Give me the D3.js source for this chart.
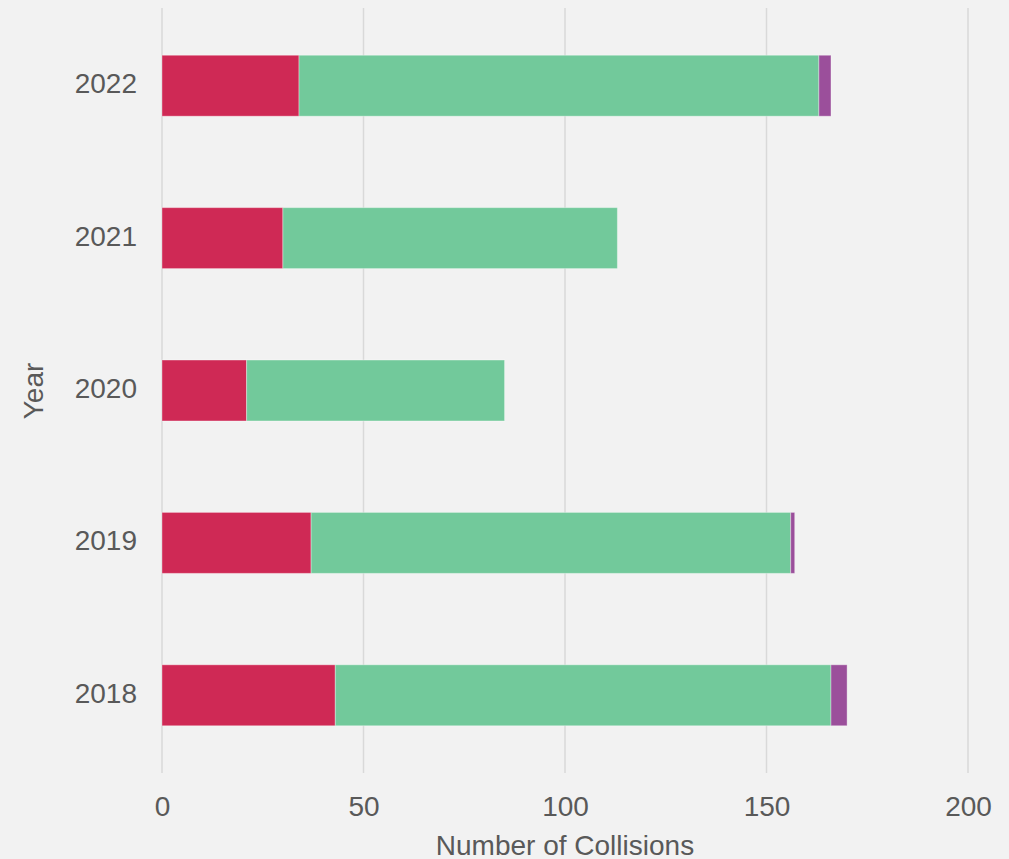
<!DOCTYPE html>
<html>
<head>
<meta charset="utf-8">
<script src="https://cdn.jsdelivr.net/npm/d3@7"></script>
<style>
  body { margin: 0; background: #f2f2f2; }
  svg { display: block; font-family: "Liberation Sans", Arial, sans-serif; }
</style>
</head>
<body>
<div id="chart"></div>
<script>
// data
var years = ["2022", "2021", "2020", "2019", "2018"];
var redVals = [34, 30, 21, 37, 43];
var greenVals = [129, 83, 64, 119, 123];
var purpleVals = [3, 0, 0, 1, 4];
var xTicks = [0, 50, 100, 150, 200];

var colors = ["#cf2955", "#72c99b", "#9b4f9b"];
var textColor = "#595959";

var width = 1009, height = 859;
var margin = { top: 8, right: 41, bottom: 86, left: 162 };
var innerW = width - margin.left - margin.right;
var innerH = height - margin.top - margin.bottom;

var svg = d3.select("#chart").append("svg")
    .attr("width", width)
    .attr("height", height);

svg.append("rect")
    .attr("width", width)
    .attr("height", height)
    .attr("fill", "#f2f2f2");

var g = svg.append("g")
    .attr("transform", "translate(" + margin.left + "," + margin.top + ")");

var x = d3.scaleLinear().domain([0, 200]).range([0, innerW]);
var y = d3.scaleBand().domain(years).range([0, innerH])
    .paddingInner(0.6)
    .paddingOuter(0.31);

// gridlines
g.selectAll(".grid")
    .data(xTicks)
  .enter().append("line")
    .attr("x1", function(d) { return x(d); })
    .attr("x2", function(d) { return x(d); })
    .attr("y1", 0)
    .attr("y2", innerH)
    .attr("stroke", "#d9d9d9")
    .attr("stroke-width", 1.5);

// build stacked rows
var rows = years.map(function(yr, i) {
  return { year: yr, red: redVals[i], green: greenVals[i], purple: purpleVals[i] };
});
var stack = d3.stack().keys(["red", "green", "purple"]);
var series = stack(rows);

g.selectAll(".series")
    .data(series)
  .enter().append("g")
    .attr("fill", function(d, i) { return colors[i]; })
  .selectAll("rect")
    .data(function(d) { return d.filter(function(p) { return p[1] > p[0]; }); })
  .enter().append("rect")
    .attr("x", function(d) { return x(d[0]); })
    .attr("width", function(d) { return x(d[1]) - x(d[0]); })
    .attr("y", function(d) { return y(d.data.year); })
    .attr("height", y.bandwidth())
    .attr("stroke", "rgba(255,255,255,0.35)")
    .attr("stroke-width", 1);

// x axis labels
var xAxis = g.append("g")
    .attr("transform", "translate(0," + innerH + ")")
    .call(d3.axisBottom(x).tickValues(xTicks).tickSize(0).tickPadding(23));
xAxis.select(".domain").remove();
xAxis.attr("font-size", 28).attr("font-family", "Liberation Sans, Arial, sans-serif");
xAxis.selectAll("text").attr("fill", textColor);

// y axis labels
var yAxis = g.append("g")
    .call(d3.axisLeft(y).tickSize(0).tickPadding(25));
yAxis.select(".domain").remove();
yAxis.attr("font-size", 28).attr("font-family", "Liberation Sans, Arial, sans-serif");
yAxis.selectAll("text").attr("fill", textColor).attr("dy", "0.27em");

// axis titles
svg.append("text")
    .attr("x", margin.left + x(100))
    .attr("y", 855)
    .attr("text-anchor", "middle")
    .attr("font-size", 28)
    .attr("fill", textColor)
    .text("Number of Collisions");

svg.append("text")
    .attr("transform", "translate(43,391) rotate(-90)")
    .attr("text-anchor", "middle")
    .attr("font-size", 28)
    .attr("fill", textColor)
    .text("Year");
</script>
</body>
</html>
